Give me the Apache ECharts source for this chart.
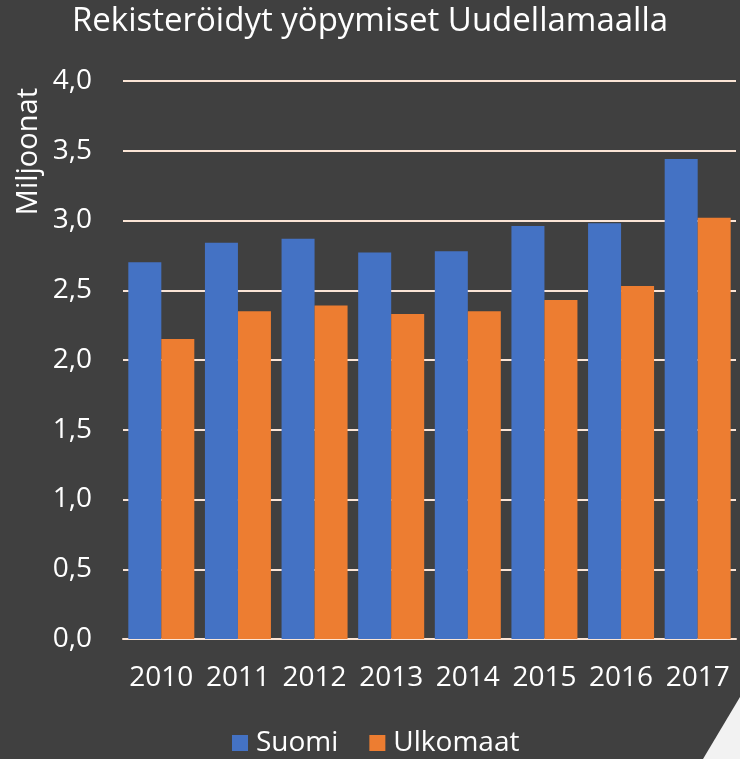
<!DOCTYPE html>
<html><head><meta charset="utf-8">
<script src="https://cdn.jsdelivr.net/npm/echarts@6/dist/echarts.min.js"></script>
<style>html,body{margin:0;padding:0;background:#404040}#c{width:740px;height:759px}</style>
</head><body><div id="c"></div>
<script>
const title = 'Rekisteröidyt yöpymiset Uudellamaalla';
const yName = 'Miljoonat';
const years = ['2010','2011','2012','2013','2014','2015','2016','2017'];
const seriesNames = ['Suomi','Ulkomaat'];
const suomi = [2.70, 2.84, 2.87, 2.77, 2.78, 2.96, 2.98, 3.44];
const ulkomaat = [2.15, 2.35, 2.39, 2.33, 2.35, 2.43, 2.53, 3.02];

const FONT = 'Open Sans';
const chart = echarts.init(document.getElementById('c'), null, {renderer:'canvas'});
chart.setOption({
  backgroundColor: '#404040',
  animation: false,
  title: {
    text: title, left: 'center', top: 0,
    textStyle: {color:'#ffffff', fontFamily: FONT, fontWeight:'normal', fontSize: 33}
  },
  graphic: [
    { type:'polygon', shape:{points:[[740,697],[740,759],[703,759]]}, style:{fill:'#F2F2F2'}, silent:true },
    { type:'text', left: 14, top: 88, rotation: Math.PI/2,
      style:{ text: yName, fill:'#ffffff', font: '29px "Open Sans"' } }
  ],
  legend: {
    top: 724, left: 227, itemWidth: 16, itemHeight: 16, itemGap: 31,
    icon: 'rect',
    textStyle: {color:'#ffffff', fontFamily: FONT, fontSize: 28, padding:[0,0,0,3]},
    data: seriesNames
  },
  grid: { left: 123, right: 4, top: 81, bottom: 120 },
  xAxis: {
    type: 'category', data: years,
    axisLine: {lineStyle:{color:'#FBE5D6', width: 2}},
    axisTick: {show:false},
    axisLabel: {color:'#ffffff', fontFamily: FONT, fontSize: 28, margin: 25, interval: 0}
  },
  yAxis: {
    type: 'value', min: 0, max: 4, interval: 0.5,
    axisLine: {show:false}, axisTick:{show:false},
    splitLine: {lineStyle:{color:'#FBE5D6', width: 2}},
    axisLabel: {color:'#ffffff', fontFamily: FONT, fontSize: 28, margin: 31,
      formatter: v => v.toFixed(1).replace('.', ',')}
  },
  series: [
    { name: seriesNames[0], type:'bar', data: suomi, barWidth: 33, barGap: '0%',
      itemStyle:{color:'#4472C4'} },
    { name: seriesNames[1], type:'bar', data: ulkomaat, barWidth: 33, barGap: '0%',
      itemStyle:{color:'#ED7D31'} }
  ]
});
</script></body></html>
